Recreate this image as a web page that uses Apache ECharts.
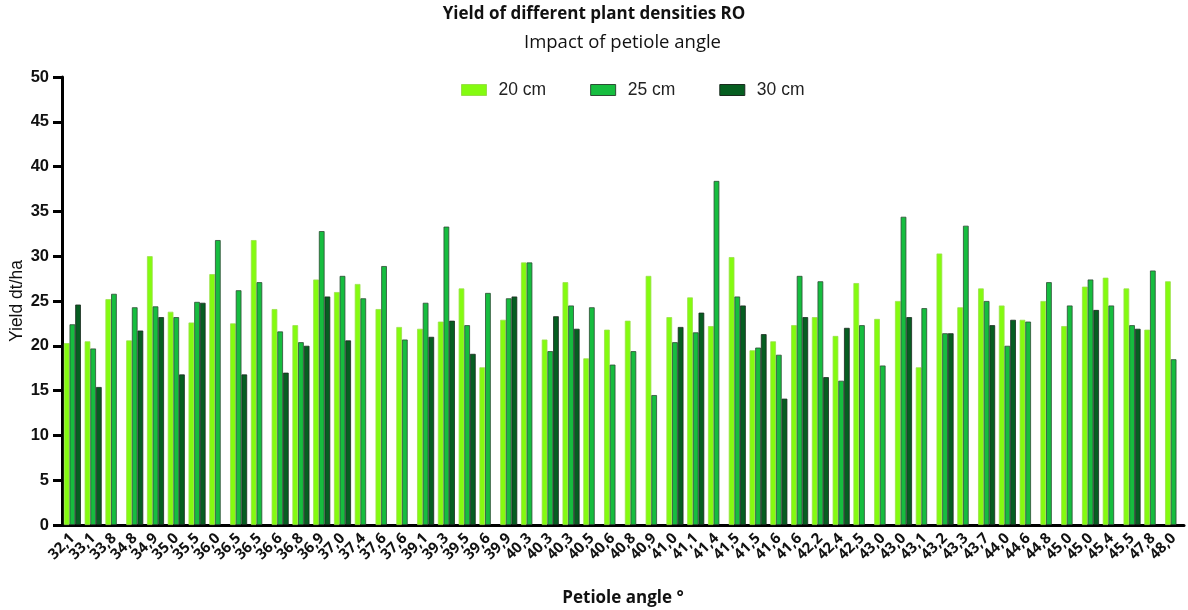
<!DOCTYPE html>
<html>
<head>
<meta charset="utf-8">
<title>Yield of different plant densities RO</title>
<script src="https://cdn.jsdelivr.net/npm/echarts@6/dist/echarts.min.js"></script>
<style>
  html, body { margin: 0; padding: 0; background: #ffffff; }
  #chart { width: 1188px; height: 610px; }
</style>
</head>
<body>
<div id="chart"></div>
<script>
// Petiole angle (°) of each plot
const categories = [
  '32,1','33,1','33,8','34,8','34,9','35,0','35,5','36,0','36,5','36,5',
  '36,6','36,8','36,9','37,0','37,4','37,6','37,6','39,1','39,3','39,5',
  '39,6','39,9','40,3','40,3','40,3','40,5','40,6','40,8','40,9','41,0',
  '41,1','41,4','41,5','41,5','41,6','41,6','42,2','42,4','42,5','43,0',
  '43,0','43,1','43,2','43,3','43,7','44,0','44,6','44,8','45,0','45,0',
  '45,4','45,5','47,8','48,0'
];

// Yield in dt/ha per plant spacing; '-' = no plot
const yield20 = [
  20.3, 20.5, 25.2, 20.6, 30.0, 23.8, 22.6, 28.0, 22.5, 31.8,
  24.1, 22.3, 27.4, 26.0, 26.9, 24.1, 22.1, 21.9, 22.7, 26.4,
  17.6, 22.9, 29.3, 20.7, 27.1, 18.6, 21.8, 22.8, 27.8, 23.2,
  25.4, 22.2, 29.9, 19.5, 20.5, 22.3, 23.2, 21.1, 27.0, 23.0,
  25.0, 17.6, 30.3, 24.3, 26.4, 24.5, 22.9, 25.0, 22.2, 26.6,
  27.6, 26.4, 21.8, 27.2
];
const yield25 = [
  22.4, 19.7, 25.8, 24.3, 24.4, 23.2, 24.9, 31.8, 26.2, 27.1,
  21.6, 20.4, 32.8, 27.8, 25.3, 28.9, 20.7, 24.8, 33.3, 22.3,
  25.9, 25.3, 29.3, 19.4, 24.5, 24.3, 17.9, 19.4, 14.5, 20.4,
  21.5, 38.4, 25.5, 19.8, 19.0, 27.8, 27.2, 16.1, 22.3, 17.8,
  34.4, 24.2, 21.4, 33.4, 25.0, 20.0, 22.7, 27.1, 24.5, 27.4,
  24.5, 22.3, 28.4, 18.5
];
const yield30 = [
  24.6, 15.4, '-', 21.7, 23.2, 16.8, 24.8, '-', 16.8, '-',
  17.0, 20.0, 25.5, 20.6, '-', '-', '-', 21.0, 22.8, 19.1,
  '-', 25.5, '-', 23.3, 21.9, '-', '-', '-', '-', 22.1,
  23.7, '-', 24.5, 21.3, 14.1, 23.2, 16.5, 22.0, '-', '-',
  23.2, '-', 21.4, '-', 22.3, 22.9, '-', '-', '-', 24.0,
  '-', 21.9, '-', '-'
];

const yTicks = { min: 0, max: 50, interval: 5 };

const seriesDefs = [
  { name: '20 cm', data: yield20, color: '#84fb10', border: '#9adf4a' },
  { name: '25 cm', data: yield25, color: '#16bd3f', border: '#2d4d35' },
  { name: '30 cm', data: yield30, color: '#065e21', border: '#1b2b1f' }
];

const chart = echarts.init(document.getElementById('chart'), null, { renderer: 'canvas' });

chart.setOption({
  animation: false,
  backgroundColor: '#ffffff',
  title: [
    {
      text: 'Yield of different plant densities RO',
      left: 'center',
      top: 1,
      textStyle: { fontFamily: 'Open Sans', fontWeight: 'bold', fontSize: 17, color: '#111' }
    },
    {
      text: 'Impact of petiole angle',
      left: 519,
      top: 28,
      textStyle: { fontFamily: 'Open Sans', fontWeight: 'normal', fontSize: 18.5, color: '#111' }
    }
  ],
  legend: {
    left: 456,
    top: 76,
    itemWidth: 25,
    itemHeight: 11,
    itemGap: 44,
    icon: 'rect',
    textStyle: { fontFamily: 'Liberation Sans', fontSize: 17.5, color: '#222', padding: [0, 0, 0, 7] },
    data: seriesDefs.map(s => ({ name: s.name, itemStyle: { borderColor: s.border, borderWidth: 1 } }))
  },
  grid: { left: 62, right: 4, top: 77, bottom: 85, outerBoundsMode: 'none' },
  xAxis: {
    type: 'category',
    data: categories,
    name: 'Petiole angle °',
    nameLocation: 'middle',
    nameGap: 65,
    nameTextStyle: { fontFamily: 'Open Sans', fontWeight: 'bold', fontSize: 17, color: '#111' },
    axisLine: { lineStyle: { color: '#000', width: 3 } },
    axisTick: { alignWithLabel: true, length: 8, lineStyle: { color: '#000', width: 3 } },
    axisLabel: {
      interval: 0,
      rotate: 45,
      margin: 11,
      fontFamily: 'Open Sans',
      fontWeight: 'bold',
      fontSize: 15,
      color: '#111'
    },
    splitLine: { show: false }
  },
  yAxis: {
    type: 'value',
    min: yTicks.min,
    max: yTicks.max,
    interval: yTicks.interval,
    name: 'Yield dt/ha',
    nameLocation: 'middle',
    nameGap: 36,
    nameMoveOverlap: false,
    nameTextStyle: { fontFamily: 'Liberation Sans', fontSize: 17.5, color: '#111' },
    axisLine: { show: true, lineStyle: { color: '#000', width: 3 } },
    axisTick: { show: true, length: 9, lineStyle: { color: '#000', width: 3 } },
    axisLabel: { fontFamily: 'Liberation Sans', fontWeight: 'bold', fontSize: 16.5, color: '#111', margin: 13 },
    splitLine: { show: false }
  },
  series: seriesDefs.map(s => ({
    name: s.name,
    type: 'bar',
    data: s.data,
    barGap: '0%',
    barCategoryGap: '18%',
    itemStyle: { color: s.color, borderColor: s.border, borderWidth: 0.8 }
  }))
});
</script>
</body>
</html>
